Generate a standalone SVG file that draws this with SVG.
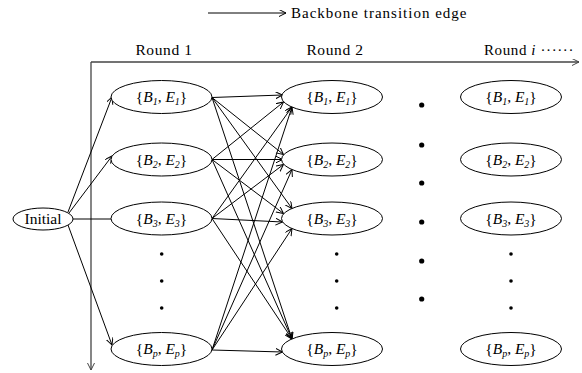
<svg xmlns="http://www.w3.org/2000/svg" width="582" height="373" viewBox="0 0 582 373" font-family="'Liberation Serif', 'DejaVu Serif', 'Times New Roman', serif">
<defs>
<marker id="ah" markerUnits="userSpaceOnUse" markerWidth="10" markerHeight="10" refX="7" refY="3.5" orient="auto">
<path d="M0,0 L7,3.5 L0,7" fill="none" stroke="#000" stroke-width="1"/>
</marker>
<marker id="ahg" markerUnits="userSpaceOnUse" markerWidth="10" markerHeight="10" refX="7" refY="3.5" orient="auto">
<path d="M0,0 L7,3.5 L0,7" fill="none" stroke="#444" stroke-width="1"/>
</marker>
</defs>
<style>
text{font-family:'Liberation Serif','DejaVu Serif','Times New Roman',serif;fill:#000}
.t{font-size:15px}
.n{font-size:15.5px;text-anchor:middle}
.i{font-style:italic}
.s{font-size:10px;font-style:italic}
ellipse{fill:#fff;stroke:#000;stroke-width:1}
.e{stroke:#000;stroke-width:1;fill:none;marker-end:url(#ah)}
.ax{stroke:#444;stroke-width:1.3;fill:none;marker-end:url(#ahg)}
.dot{fill:#000}
</style>
<rect width="582" height="373" fill="#fff"/>

<g id="legend">
<line x1="208" y1="13" x2="286" y2="13" class="e"/>
<text x="291" y="18" class="t" letter-spacing="1">Backbone transition edge</text>
</g>

<g id="axes">
<line x1="91" y1="62" x2="579" y2="62" class="ax"/>
<line x1="91" y1="62" x2="91" y2="370" class="ax"/>
<text x="164" y="55" class="n" letter-spacing="0.6">Round 1</text>
<text x="335" y="55" class="n" letter-spacing="0.6">Round 2</text>
<text x="484" y="55" class="t" letter-spacing="0.6">Round <tspan class="i">i</tspan> ······</text>
</g>

<g id="connectors">
<line x1="68" y1="212" x2="112" y2="97" class="e"/>
<line x1="69" y1="213" x2="112" y2="156" class="e"/>
<line x1="73" y1="219" x2="111" y2="219" stroke="#000" stroke-width="1"/>
<line x1="68" y1="225" x2="112" y2="345" class="e"/>

<line x1="212" y1="97.5" x2="282.5" y2="95" class="e"/>
<line x1="212" y1="97.5" x2="283.5" y2="154.5" class="e"/>
<line x1="212" y1="97.5" x2="292" y2="208.5" class="e"/>
<line x1="212" y1="97.5" x2="292" y2="339" class="e"/>

<line x1="212" y1="159.5" x2="283.5" y2="102" class="e"/>
<line x1="212" y1="159.5" x2="282.5" y2="159.5" class="e"/>
<line x1="212" y1="159.5" x2="283.5" y2="213.5" class="e"/>
<line x1="212" y1="159.5" x2="292" y2="339" class="e"/>

<line x1="212" y1="218.5" x2="292" y2="107" class="e"/>
<line x1="212" y1="218.5" x2="283.5" y2="164.5" class="e"/>
<line x1="212" y1="218.5" x2="282.5" y2="222" class="e"/>
<line x1="212" y1="218.5" x2="292" y2="339" class="e"/>

<line x1="212" y1="350" x2="292" y2="107" class="e"/>
<line x1="212" y1="350" x2="292" y2="169.5" class="e"/>
<line x1="212" y1="350" x2="292" y2="228.5" class="e"/>
<line x1="212" y1="350" x2="282.5" y2="352" class="e"/>
</g>

<g id="initial">
<ellipse cx="43" cy="219" rx="30" ry="11"/>
<text x="43" y="224" class="n">Initial</text>
</g>

<g id="r1-b1"><ellipse cx="161.5" cy="97" rx="50.5" ry="16.5"/><text x="161.5" y="102" class="n">{<tspan class="i">B</tspan><tspan class="s" dy="3">1</tspan><tspan dy="-3">, </tspan><tspan class="i">E</tspan><tspan class="s" dy="3">1</tspan><tspan dy="-3">}</tspan></text></g>
<g id="r1-b2"><ellipse cx="161.5" cy="159.5" rx="50.5" ry="16.5"/><text x="161.5" y="164.5" class="n">{<tspan class="i">B</tspan><tspan class="s" dy="3">2</tspan><tspan dy="-3">, </tspan><tspan class="i">E</tspan><tspan class="s" dy="3">2</tspan><tspan dy="-3">}</tspan></text></g>
<g id="r1-b3"><ellipse cx="161.5" cy="218.5" rx="50.5" ry="16.5"/><text x="161.5" y="223.5" class="n">{<tspan class="i">B</tspan><tspan class="s" dy="3">3</tspan><tspan dy="-3">, </tspan><tspan class="i">E</tspan><tspan class="s" dy="3">3</tspan><tspan dy="-3">}</tspan></text></g>
<g id="r1-bp"><ellipse cx="161.5" cy="349" rx="50.5" ry="16.5"/><text x="161.5" y="354" class="n">{<tspan class="i">B</tspan><tspan class="s" dy="3">p</tspan><tspan dy="-3">, </tspan><tspan class="i">E</tspan><tspan class="s" dy="3">p</tspan><tspan dy="-3">}</tspan></text></g>

<g id="r2-b1"><ellipse cx="332" cy="97" rx="50.5" ry="16.5"/><text x="332" y="102" class="n">{<tspan class="i">B</tspan><tspan class="s" dy="3">1</tspan><tspan dy="-3">, </tspan><tspan class="i">E</tspan><tspan class="s" dy="3">1</tspan><tspan dy="-3">}</tspan></text></g>
<g id="r2-b2"><ellipse cx="332" cy="159.5" rx="50.5" ry="16.5"/><text x="332" y="164.5" class="n">{<tspan class="i">B</tspan><tspan class="s" dy="3">2</tspan><tspan dy="-3">, </tspan><tspan class="i">E</tspan><tspan class="s" dy="3">2</tspan><tspan dy="-3">}</tspan></text></g>
<g id="r2-b3"><ellipse cx="332" cy="218.5" rx="50.5" ry="16.5"/><text x="332" y="223.5" class="n">{<tspan class="i">B</tspan><tspan class="s" dy="3">3</tspan><tspan dy="-3">, </tspan><tspan class="i">E</tspan><tspan class="s" dy="3">3</tspan><tspan dy="-3">}</tspan></text></g>
<g id="r2-bp"><ellipse cx="332" cy="349" rx="50.5" ry="16.5"/><text x="332" y="354" class="n">{<tspan class="i">B</tspan><tspan class="s" dy="3">p</tspan><tspan dy="-3">, </tspan><tspan class="i">E</tspan><tspan class="s" dy="3">p</tspan><tspan dy="-3">}</tspan></text></g>

<g id="ri-b1"><ellipse cx="511" cy="97" rx="50.5" ry="16.5"/><text x="511" y="102" class="n">{<tspan class="i">B</tspan><tspan class="s" dy="3">1</tspan><tspan dy="-3">, </tspan><tspan class="i">E</tspan><tspan class="s" dy="3">1</tspan><tspan dy="-3">}</tspan></text></g>
<g id="ri-b2"><ellipse cx="511" cy="159.5" rx="50.5" ry="16.5"/><text x="511" y="164.5" class="n">{<tspan class="i">B</tspan><tspan class="s" dy="3">2</tspan><tspan dy="-3">, </tspan><tspan class="i">E</tspan><tspan class="s" dy="3">2</tspan><tspan dy="-3">}</tspan></text></g>
<g id="ri-b3"><ellipse cx="511" cy="218.5" rx="50.5" ry="16.5"/><text x="511" y="223.5" class="n">{<tspan class="i">B</tspan><tspan class="s" dy="3">3</tspan><tspan dy="-3">, </tspan><tspan class="i">E</tspan><tspan class="s" dy="3">3</tspan><tspan dy="-3">}</tspan></text></g>
<g id="ri-bp"><ellipse cx="511" cy="349" rx="50.5" ry="16.5"/><text x="511" y="354" class="n">{<tspan class="i">B</tspan><tspan class="s" dy="3">p</tspan><tspan dy="-3">, </tspan><tspan class="i">E</tspan><tspan class="s" dy="3">p</tspan><tspan dy="-3">}</tspan></text></g>

<g id="dots">
<circle cx="161.7" cy="254" r="1.8" class="dot"/>
<circle cx="161.7" cy="281" r="1.8" class="dot"/>
<circle cx="161.7" cy="308" r="1.8" class="dot"/>
<circle cx="336.7" cy="254" r="1.8" class="dot"/>
<circle cx="336.7" cy="281" r="1.8" class="dot"/>
<circle cx="336.7" cy="308" r="1.8" class="dot"/>
<circle cx="511" cy="254" r="1.8" class="dot"/>
<circle cx="511" cy="281" r="1.8" class="dot"/>
<circle cx="511" cy="308" r="1.8" class="dot"/>
<circle cx="421.7" cy="105" r="2.6" class="dot"/>
<circle cx="421.7" cy="145" r="2.6" class="dot"/>
<circle cx="421.7" cy="183" r="2.6" class="dot"/>
<circle cx="421.7" cy="222" r="2.6" class="dot"/>
<circle cx="421.7" cy="261" r="2.6" class="dot"/>
<circle cx="421.7" cy="299" r="2.6" class="dot"/>
</g>
</svg>
